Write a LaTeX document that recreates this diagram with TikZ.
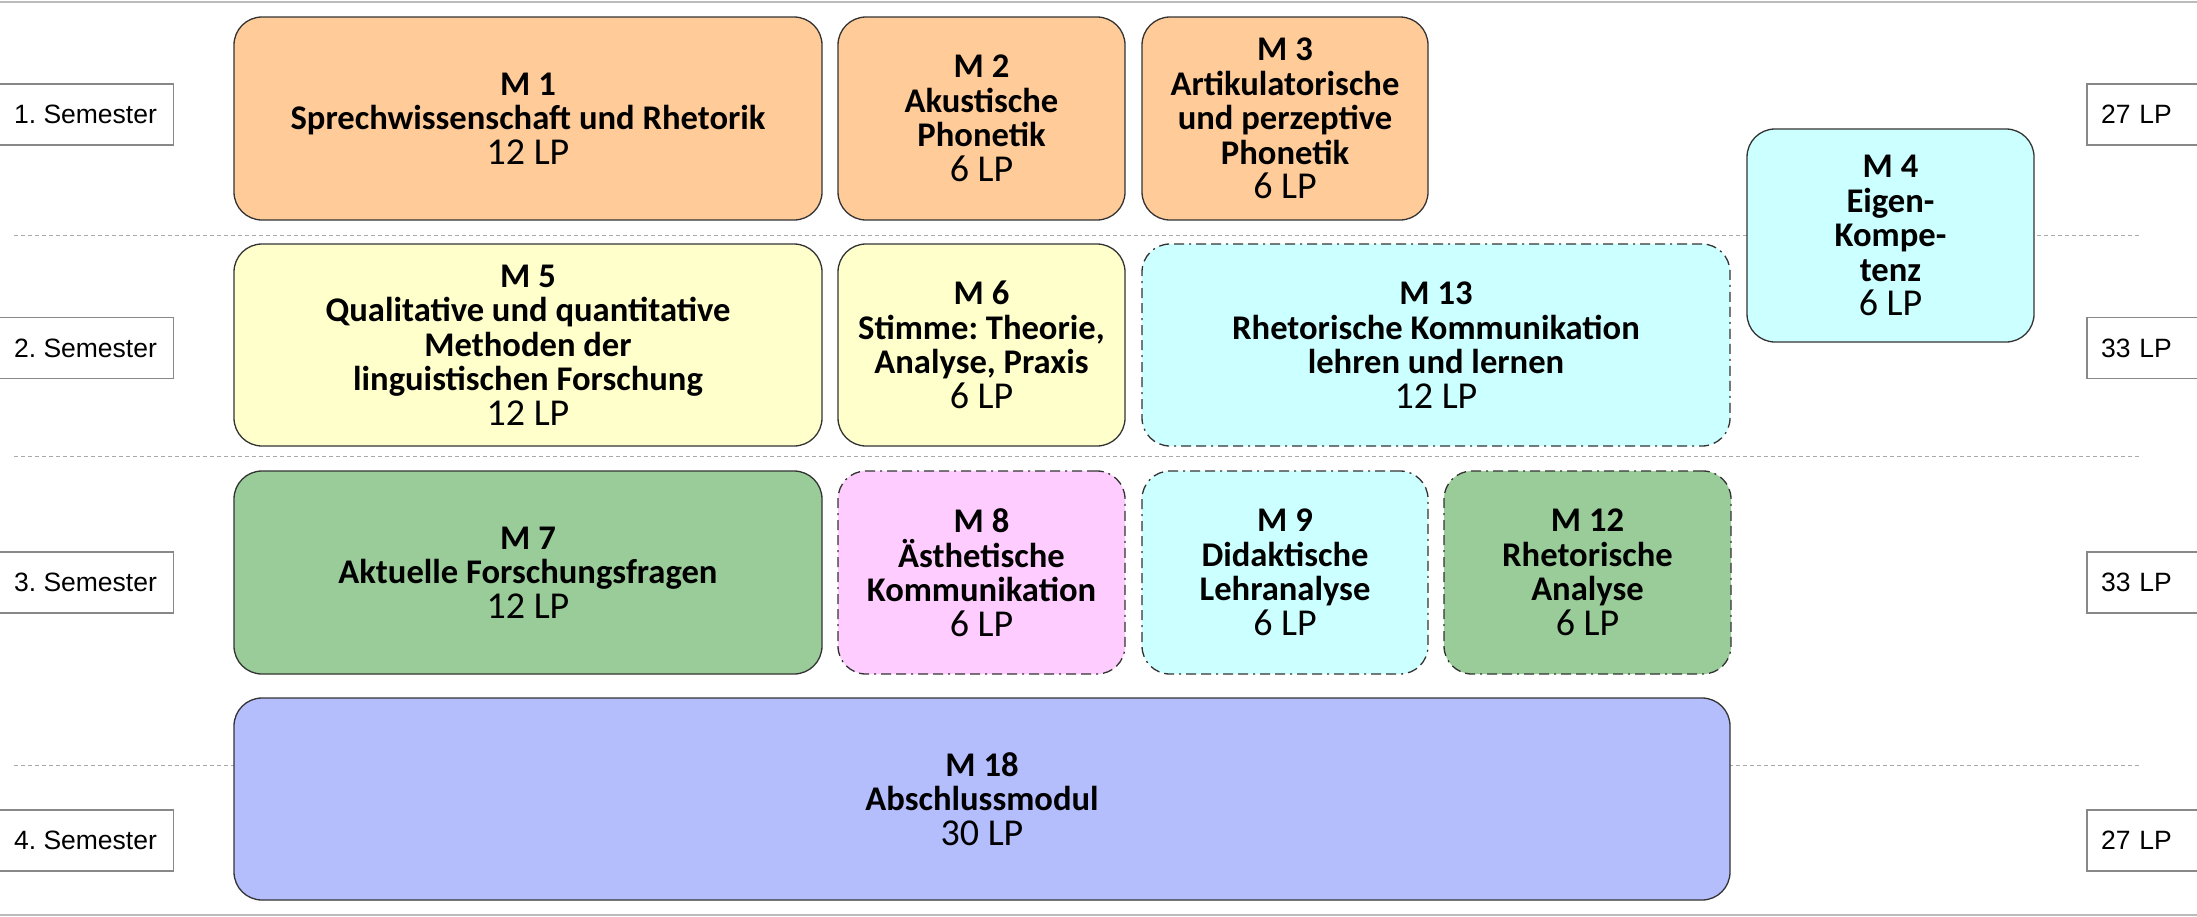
\documentclass[tikz,border=0pt]{standalone}
\usepackage{fontspec}
\setmainfont{Liberation Sans}
\newfontfamily\carl{Carlito}
\frenchspacing
\definecolor{cOrange}{HTML}{FFCC99}
\definecolor{cYellow}{HTML}{FFFFCC}
\definecolor{cCyan}{HTML}{CCFFFF}
\definecolor{cGreen}{HTML}{99CC99}
\definecolor{cPink}{HTML}{FFCCFF}
\definecolor{cBlue}{HTML}{B4BEFC}
\definecolor{cBorder}{HTML}{333333}
\definecolor{cSemBorder}{HTML}{888888}
\definecolor{cGrid}{HTML}{AAAAAA}
\definecolor{cFrame}{HTML}{BBBBBB}
\newcommand{\lpline}[1]{{\mdseries\fontsize{38}{34.5}\selectfont #1}}
\newcommand{\modfont}{\carl\fontsize{34.6}{34.5}\selectfont\bfseries\lineskiplimit=-20pt\relax}
\tikzset{
  modbox/.style={draw=cBorder, line width=1.3pt, rounded corners=28pt, inner sep=0pt,
    align=center, font=\modfont},
  dashdot/.style={dash pattern=on 10pt off 5pt on 10pt off 5pt on 2pt off 5pt},
  sembox/.style={draw=cSemBorder, line width=1.3pt, fill=white, inner sep=0pt,
    minimum height=61pt, font=\fontsize{26.5}{30}\selectfont},
  gridline/.style={draw=cGrid, line width=1pt, dash pattern=on 4pt off 3pt},
}
\begin{document}
\begin{tikzpicture}[x=1pt,y=-1pt]
\useasboundingbox (0,0) rectangle (2197,916);
% frame lines
\coordinate (ftl) at (0,1.5); \coordinate (ftr) at (2197,1.5);
\coordinate (fbl) at (0,915); \coordinate (fbr) at (2197,915);
\draw[cFrame, line width=2pt] (ftl) -- (ftr);
\draw[cFrame, line width=2pt] (fbl) -- (fbr);
% semester separators
\coordinate (g1l) at (14,235.5); \coordinate (g1r) at (2139,235.5);
\coordinate (g2l) at (14,456); \coordinate (g2r) at (2139,456);
\coordinate (g3l) at (14,765); \coordinate (g3r) at (2139,765);
\draw[gridline] (g1l) -- (g1r);
\draw[gridline] (g2l) -- (g2r);
\draw[gridline] (g3l) -- (g3r);
% semester labels
\node[sembox, minimum width=176pt] (s1) at (85.5,114.5) {1. Semester};
\node[sembox, minimum width=176pt] (s2) at (85.5,348) {2. Semester};
\node[sembox, minimum width=176pt] (s3) at (85.5,582.5) {3. Semester};
\node[sembox, minimum width=176pt] (s4) at (85.5,840.5) {4. Semester};
\node[sembox, minimum width=114pt, text width=114pt, align=left] (p1) at (2144,114.5) {\hspace*{14pt}27 LP};
\node[sembox, minimum width=114pt, text width=114pt, align=left] (p2) at (2144,348) {\hspace*{14pt}33 LP};
\node[sembox, minimum width=114pt, text width=114pt, align=left] (p3) at (2144,582.5) {\hspace*{14pt}33 LP};
\node[sembox, minimum width=114pt, text width=114pt, align=left] (p4) at (2144,840.5) {\hspace*{14pt}27 LP};
% modules, semester 1
\node[modbox, fill=cOrange, minimum width=588pt, minimum height=203pt] (m1) at (528,118.5)
  {M 1\\Sprechwissenschaft und Rhetorik\\\lpline{12 LP}};
\node[modbox, fill=cOrange, minimum width=287pt, minimum height=203pt] (m2) at (981.5,118.5)
  {M 2\\Akustische\\Phonetik\\\lpline{6 LP}};
\node[modbox, fill=cOrange, minimum width=286pt, minimum height=203pt] (m3) at (1285,118.5)
  {M 3\\Artikulatorische\\und perzeptive\\Phonetik\\\lpline{6 LP}};
\node[modbox, fill=cCyan, minimum width=287pt, minimum height=213pt] (m4) at (1890.5,235.5)
  {M 4\\Eigen-\\Kompe-\\tenz\\\lpline{6 LP}};
% semester 2
\node[modbox, fill=cYellow, minimum width=588pt, minimum height=202pt] (m5) at (528,345)
  {M 5\\Qualitative und quantitative\\Methoden der\\linguistischen Forschung\\\lpline{12 LP}};
\node[modbox, fill=cYellow, minimum width=287pt, minimum height=202pt] (m6) at (981.5,345)
  {M 6\\Stimme: Theorie,\\Analyse, Praxis\\\lpline{6 LP}};
\node[modbox, dashdot, fill=cCyan, minimum width=588pt, minimum height=202pt] (m13) at (1436,345)
  {M 13\\Rhetorische Kommunikation\\lehren und lernen\\\lpline{12 LP}};
% semester 3
\node[modbox, fill=cGreen, minimum width=588pt, minimum height=203pt] (m7) at (528,572.5)
  {M 7\\Aktuelle Forschungsfragen\\\lpline{12 LP}};
\node[modbox, dashdot, fill=cPink, minimum width=287pt, minimum height=203pt] (m8) at (981.5,572.5)
  {M 8\\Ästhetische\\Kommunikation\\\lpline{6 LP}};
\node[modbox, dashdot, fill=cCyan, minimum width=286pt, minimum height=203pt] (m9) at (1285,572.5)
  {M 9\\Didaktische\\Lehranalyse\\\lpline{6 LP}};
\node[modbox, dashdot, fill=cGreen, minimum width=287pt, minimum height=203pt] (m12) at (1587.5,572.5)
  {M 12\\Rhetorische\\Analyse\\\lpline{6 LP}};
% semester 4
\node[modbox, fill=cBlue, minimum width=1496pt, minimum height=202pt] (m18) at (982,799)
  {M 18\\Abschlussmodul\\\lpline{30 LP}};
\end{tikzpicture}
\end{document}
